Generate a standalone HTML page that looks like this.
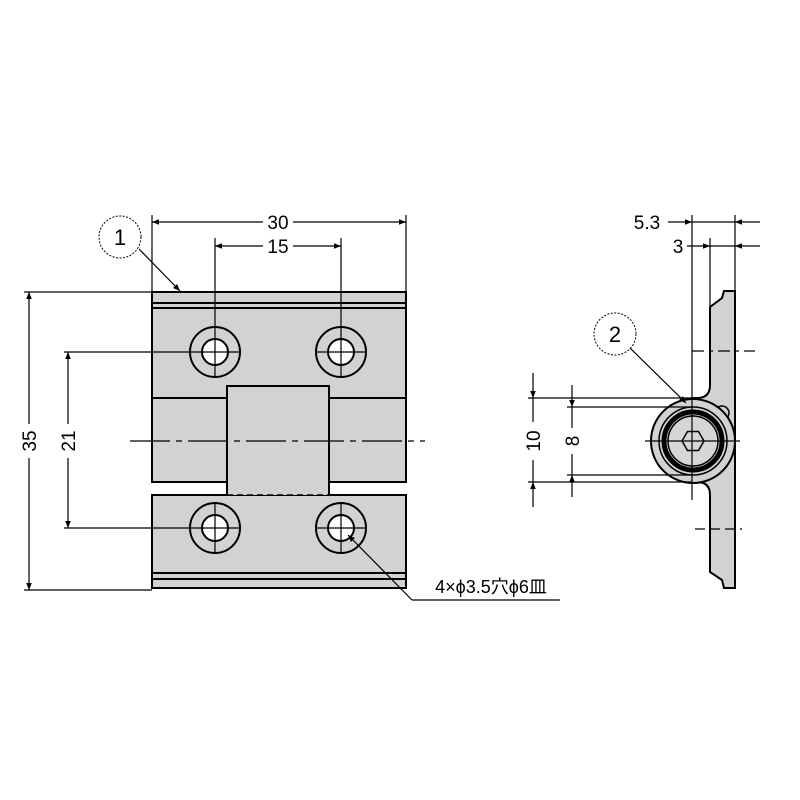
<!DOCTYPE html>
<html><head><meta charset="utf-8"><style>html,body{margin:0;padding:0;background:#fff}svg{display:block}</style></head>
<body>
<svg width="800" height="800" viewBox="0 0 800 800" xmlns="http://www.w3.org/2000/svg" font-family="Liberation Sans, Noto Sans CJK JP, sans-serif">
<defs>
<marker id="a" viewBox="0 0 10 10" refX="10" refY="5" markerWidth="10" markerHeight="7" orient="auto-start-reverse" markerUnits="userSpaceOnUse"><path d="M0,1 L10,5 L0,9 z" fill="#000"/></marker>
</defs>
<g stroke="#000" fill="none" stroke-width="1.2">
<rect x="152" y="292" width="254" height="106" fill="#d2d2d2" stroke-width="2"/>
<rect x="152" y="398" width="254" height="84" fill="#d2d2d2" stroke-width="2"/>
<rect x="152" y="495" width="254" height="93" fill="#d2d2d2" stroke-width="2"/>
<line x1="152" y1="303" x2="406" y2="303" stroke-width="2"/>
<line x1="152" y1="308" x2="406" y2="308" stroke-width="2"/>
<line x1="152" y1="573" x2="406" y2="573" stroke-width="2"/>
<line x1="152" y1="579" x2="406" y2="579" stroke-width="2"/>
<path d="M227,495 V386 H329 V495" fill="#d2d2d2" stroke-width="2"/>
<rect x="228" y="483" width="100" height="12" fill="#d2d2d2" stroke="none"/>
<line x1="227" y1="495" x2="329" y2="495" stroke-width="1.5" stroke-dasharray="6,4"/>
<line x1="130" y1="441" x2="425" y2="441" stroke-dasharray="40,6,6,6"/>
<g stroke-width="2">
<circle cx="215" cy="352" r="25"/><circle cx="215" cy="352" r="13" fill="#fff"/>
<circle cx="341" cy="352" r="25"/><circle cx="341" cy="352" r="13" fill="#fff"/>
<circle cx="215" cy="528" r="25"/><circle cx="215" cy="528" r="13" fill="#fff"/>
<circle cx="341" cy="528" r="25"/><circle cx="341" cy="528" r="13" fill="#fff"/>
</g>
<path d="M190,352h50M215,327v50M316,352h50M341,327v50M190,528h50M215,503v50M316,528h50M341,503v50"/>
<line x1="152" y1="215" x2="152" y2="292"/>
<line x1="406" y1="215" x2="406" y2="292"/>
<line x1="215" y1="238" x2="215" y2="327"/>
<line x1="341" y1="238" x2="341" y2="327"/>
<line x1="152" y1="222" x2="263" y2="222" marker-start="url(#a)"/>
<line x1="293" y1="222" x2="406" y2="222" marker-end="url(#a)"/>
<line x1="215" y1="246" x2="263" y2="246" marker-start="url(#a)"/>
<line x1="293" y1="246" x2="341" y2="246" marker-end="url(#a)"/>
<line x1="24" y1="292" x2="152" y2="292"/>
<line x1="24" y1="590" x2="152" y2="590"/>
<line x1="64" y1="352" x2="190" y2="352"/>
<line x1="64" y1="528" x2="190" y2="528"/>
<line x1="29" y1="292" x2="29" y2="424" marker-start="url(#a)"/>
<line x1="29" y1="458" x2="29" y2="590" marker-end="url(#a)"/>
<line x1="68" y1="352" x2="68" y2="424" marker-start="url(#a)"/>
<line x1="68" y1="458" x2="68" y2="528" marker-end="url(#a)"/>
<circle cx="120" cy="237" r="21" stroke-dasharray="2,1.5" stroke-width="1"/>
<line x1="139" y1="249" x2="180" y2="291" marker-end="url(#a)"/>
<line x1="412" y1="600" x2="348" y2="535" marker-end="url(#a)"/>
<line x1="412" y1="600" x2="560" y2="600"/>
<path d="M735,291 H724 L722,298 L710,307 V385 Q710,398 697,398 H692 V482 H697 Q710,482 710,495 V572 L722,580 L724,588 H735 Z" fill="#d2d2d2" stroke-width="2"/>
<circle cx="722" cy="413" r="7" fill="#d2d2d2" stroke-width="1.5"/>
<circle cx="693" cy="441" r="42" fill="#d2d2d2" stroke-width="2"/>
<circle cx="693" cy="441" r="34" stroke-width="1.5"/>
<circle cx="693" cy="441" r="29" stroke-width="5"/>
<circle cx="693" cy="441" r="25" stroke-width="1.5" fill="#d6d6d6"/>
<polygon points="682,441 687.5,431.5 698.5,431.5 704,441 698.5,450.5 687.5,450.5" stroke-width="1.5"/>
<line x1="692" y1="215" x2="692" y2="500"/>
<line x1="710" y1="238" x2="710" y2="307"/>
<line x1="735" y1="215" x2="735" y2="291"/>
<line x1="645" y1="441" x2="740" y2="441"/>
<line x1="692" y1="351" x2="755" y2="351" stroke-dasharray="12,5,4,5"/>
<line x1="695" y1="529" x2="742" y2="529" stroke-dasharray="10,5"/>
<line x1="692" y1="222" x2="735" y2="222"/>
<line x1="710" y1="246" x2="735" y2="246"/>
<line x1="668" y1="222" x2="692" y2="222" marker-end="url(#a)"/>
<line x1="760" y1="222" x2="735" y2="222" marker-end="url(#a)"/>
<line x1="687" y1="246" x2="710" y2="246" marker-end="url(#a)"/>
<line x1="760" y1="246" x2="735" y2="246" marker-end="url(#a)"/>
<line x1="528" y1="398" x2="692" y2="398"/>
<line x1="528" y1="482" x2="692" y2="482"/>
<line x1="567" y1="407" x2="692" y2="407"/>
<line x1="567" y1="475" x2="692" y2="475"/>
<line x1="533" y1="373" x2="533" y2="398" marker-end="url(#a)"/>
<line x1="533" y1="507" x2="533" y2="482" marker-end="url(#a)"/>
<line x1="533" y1="398" x2="533" y2="422"/>
<line x1="533" y1="460" x2="533" y2="482"/>
<line x1="572" y1="385" x2="572" y2="407" marker-end="url(#a)"/>
<line x1="572" y1="497" x2="572" y2="475" marker-end="url(#a)"/>
<line x1="572" y1="407" x2="572" y2="428"/>
<line x1="572" y1="454" x2="572" y2="475"/>
<circle cx="615" cy="334" r="21" stroke-dasharray="2,1.5" stroke-width="1"/>
<line x1="630" y1="348" x2="686" y2="403" marker-end="url(#a)"/>
</g>
<g fill="#000" font-size="19" text-anchor="middle">
<text x="278" y="229">30</text>
<text x="278" y="253">15</text>
<text x="120" y="245" font-size="22">1</text>
<text x="615" y="342" font-size="22">2</text>
<text x="647" y="229">5.3</text>
<text x="678" y="253">3</text>
<text transform="translate(36,441) rotate(-90)">35</text>
<text transform="translate(75,441) rotate(-90)">21</text>
<text transform="translate(540,441) rotate(-90)">10</text>
<text transform="translate(579,441) rotate(-90)">8</text>
<text x="491" y="593" font-size="18">4×ϕ3.5穴ϕ6皿</text>
</g>
</svg>
</body></html>
